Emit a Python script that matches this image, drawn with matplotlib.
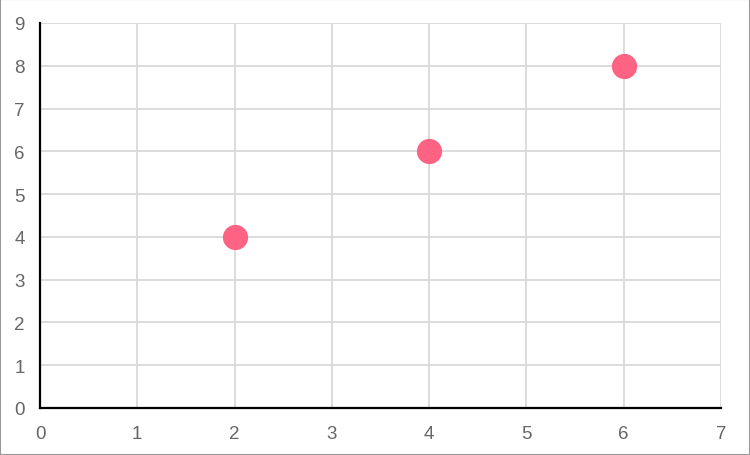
import matplotlib
matplotlib.use("Agg")
import matplotlib.pyplot as plt
from matplotlib.patches import Rectangle

x_vals = [2, 4, 6]
y_vals = [4, 6, 8]
x_ticks = [0, 1, 2, 3, 4, 5, 6, 7]
y_ticks = [0, 1, 2, 3, 4, 5, 6, 7, 8, 9]

plt.rcParams['font.family'] = ['Liberation Sans', 'DejaVu Sans']

W, H = 750, 456
fig = plt.figure(figsize=(W / 100, H / 100), dpi=100)
ax = fig.add_axes([40 / W, 1 - 409 / H, (721 - 40) / W, (409 - 24) / H])

ax.scatter(x_vals, y_vals, s=330, color='#ff6384', zorder=3, linewidths=0)

ax.set_xlim(0, 7)
ax.set_ylim(0, 9)
ax.set_xticks(x_ticks)
ax.set_yticks(y_ticks)
ax.grid(True, color='#d9d9d9', linewidth=1.3, zorder=0)
ax.set_axisbelow(True)
for side in ['top', 'right']:
    ax.spines[side].set_visible(False)
for side in ['left', 'bottom']:
    ax.spines[side].set_color('black')
    ax.spines[side].set_linewidth(1.6)
    ax.spines[side].set_zorder(4)
ax.tick_params(axis='x', length=0, pad=12, labelsize=13.5, labelcolor='#666666')
ax.tick_params(axis='y', length=0, pad=11, labelsize=13.5, labelcolor='#666666')

fig.patches.append(Rectangle((0, 0), 1, 1, transform=fig.transFigure, fill=False,
                             edgecolor='#999999', linewidth=1.5))

fig.savefig('out.png', dpi=100)
